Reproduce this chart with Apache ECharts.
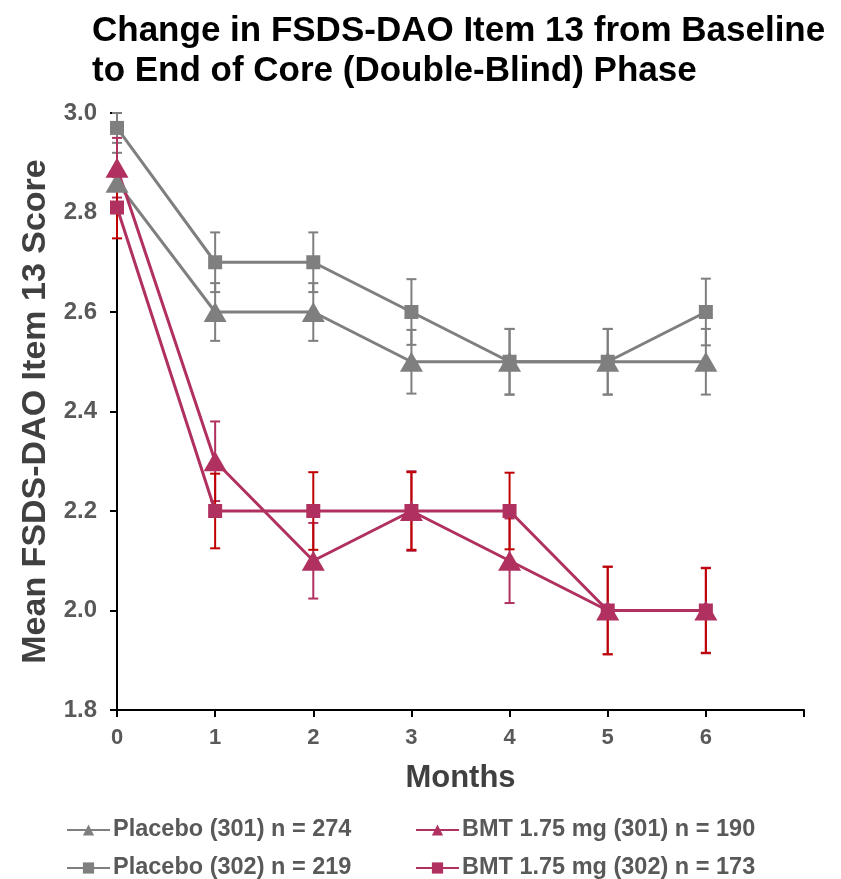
<!DOCTYPE html>
<html>
<head>
<meta charset="utf-8">
<script src="https://cdn.jsdelivr.net/npm/echarts@6/dist/echarts.min.js"></script>
<style>
  html, body { margin: 0; padding: 0; background: #fff; }
  #chart { width: 841px; height: 879px; }
</style>
</head>
<body>
<div id="chart"></div>
<script>
var months = [0, 1, 2, 3, 4, 5, 6];

// mean scores
var placebo301 = [2.86, 2.6, 2.6, 2.5, 2.5, 2.5, 2.5];
var placebo302 = [2.97, 2.7, 2.7, 2.6, 2.5, 2.5, 2.6];
var bmt301 = [2.89, 2.3, 2.1, 2.2, 2.1, 2.0, 2.0];
var bmt302 = [2.81, 2.2, 2.2, 2.2, 2.2, 2.0, 2.0];

// half-width of error bars
var placebo301Err = [0.06, 0.058, 0.058, 0.064, 0.066, 0.066, 0.066];
var placebo302Err = [0.03, 0.06, 0.06, 0.066, 0.066, 0.066, 0.067];
var bmt301Err = [0.06, 0.08, 0.076, 0.08, 0.085, 0.088, 0.086];
var bmt302Err = [0.062, 0.075, 0.078, 0.078, 0.077, 0.088, 0.085];

var GRAY = '#7f7f7f';
var MAGENTA = '#b03060';
var RED = '#c00000';
var FONT = 'Liberation Sans, Arial, sans-serif';

function errData(vals, errs) {
  return months.map(function (m, i) {
    return [m, vals[i] - errs[i], vals[i] + errs[i]];
  });
}

function errSeries(vals, errs, color) {
  return {
    type: 'custom',
    z: 1,
    silent: true,
    data: errData(vals, errs),
    encode: { x: 0, y: [1, 2] },
    renderItem: function (params, api) {
      var lo = api.coord([api.value(0), api.value(1)]);
      var hi = api.coord([api.value(0), api.value(2)]);
      var w = 5;
      var st = { stroke: color, lineWidth: 2 };
      return {
        type: 'group',
        children: [
          { type: 'line', shape: { x1: lo[0], y1: lo[1], x2: hi[0], y2: hi[1] }, style: st },
          { type: 'line', shape: { x1: lo[0] - w, y1: lo[1], x2: lo[0] + w, y2: lo[1] }, style: st },
          { type: 'line', shape: { x1: hi[0] - w, y1: hi[1], x2: hi[0] + w, y2: hi[1] }, style: st }
        ]
      };
    }
  };
}

function lineSeries(name, vals, color, symbol, size) {
  return {
    name: name,
    type: 'line',
    z: 3,
    data: months.map(function (m, i) { return [m, vals[i]]; }),
    symbol: symbol,
    symbolSize: size,
    showSymbol: true,
    lineStyle: { color: color, width: 3 },
    itemStyle: { color: color },
    emphasis: { disabled: true }
  };
}

function legendItem(name, left, top) {
  return {
    data: [name],
    left: left,
    top: top,
    padding: 0,
    itemWidth: 43,
    itemHeight: 14,
    itemGap: 0,
    selectedMode: false,
    textStyle: { fontFamily: FONT, fontSize: 23.5, fontWeight: 'bold', color: '#595959', padding: [0, 0, 0, -2] }
  };
}

var names = ['Placebo (301) n = 274', 'Placebo (302) n = 219', 'BMT 1.75 mg (301) n = 190', 'BMT 1.75 mg (302) n = 173'];

var myChart = echarts.init(document.getElementById('chart'));

var option = {
  animation: false,
  title: {
    text: 'Change in FSDS-DAO Item 13 from Baseline\nto End of Core (Double-Blind) Phase',
    left: 92,
    top: 11,
    padding: 0,
    textStyle: {
      fontFamily: FONT,
      fontSize: 35,
      fontWeight: 'bold',
      color: '#000',
      lineHeight: 40
    }
  },
  grid: { left: 117, right: 37, top: 113, bottom: 169 },
  legend: [
    legendItem(names[0], 66, 818),
    legendItem(names[1], 66, 856),
    legendItem(names[2], 415, 818),
    legendItem(names[3], 415, 856)
  ],
  xAxis: {
    type: 'value',
    min: 0,
    max: 7,
    interval: 1,
    name: 'Months',
    nameLocation: 'middle',
    nameGap: 53,
    nameTextStyle: { fontFamily: FONT, fontSize: 31, fontWeight: 'bold', color: '#404040' },
    axisLine: { lineStyle: { color: '#000', width: 2 } },
    axisTick: { inside: false, length: 7, lineStyle: { color: '#000', width: 2 } },
    axisLabel: {
      margin: 17,
      fontFamily: FONT,
      fontSize: 22,
      fontWeight: 'bold',
      color: '#595959',
      formatter: function (v) { return v <= 6 ? String(v) : ''; }
    },
    splitLine: { show: false }
  },
  yAxis: {
    type: 'value',
    min: 1.8,
    max: 3.0,
    interval: 0.2,
    name: 'Mean FSDS-DAO Item 13 Score',
    nameLocation: 'middle',
    nameGap: 64,
    nameTextStyle: { fontFamily: FONT, fontSize: 34, fontWeight: 'bold', color: '#404040' },
    axisLine: { show: true, lineStyle: { color: '#000', width: 2 } },
    axisTick: { show: true, inside: false, length: 7, lineStyle: { color: '#000', width: 2 } },
    axisLabel: {
      margin: 20,
      fontFamily: FONT,
      fontSize: 24,
      fontWeight: 'bold',
      color: '#595959',
      formatter: function (v) { return v.toFixed(1); }
    },
    splitLine: { show: false }
  },
  series: [
    errSeries(placebo301, placebo301Err, GRAY),
    errSeries(placebo302, placebo302Err, GRAY),
    errSeries(bmt301, bmt301Err, MAGENTA),
    errSeries(bmt302, bmt302Err, RED),
    lineSeries(names[0], placebo301, GRAY, 'triangle', [23, 20]),
    lineSeries(names[1], placebo302, GRAY, 'rect', 14),
    lineSeries(names[2], bmt301, MAGENTA, 'triangle', [23, 20]),
    lineSeries(names[3], bmt302, MAGENTA, 'rect', 14)
  ]
};

myChart.setOption(option);
</script>
</body>
</html>
